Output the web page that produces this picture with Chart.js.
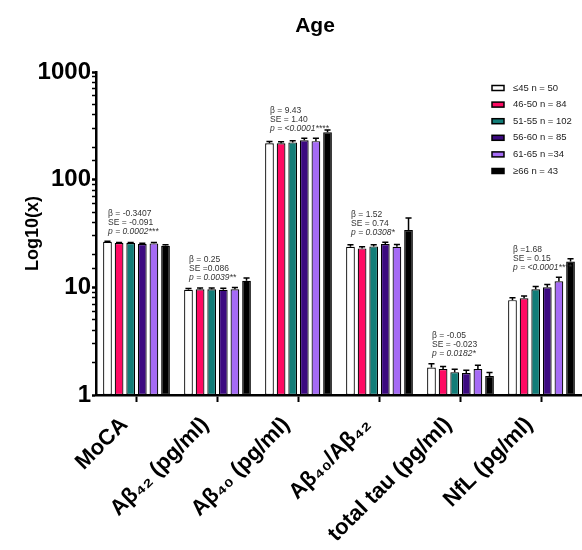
<!DOCTYPE html>
<html>
<head>
<meta charset="utf-8">
<script src="https://cdn.jsdelivr.net/npm/chart.js@4"></script>
<style>
  html, body { margin: 0; padding: 0; background: #fff; }
  #wrap { width: 582px; height: 550px; }
</style>
</head>
<body>
<div id="wrap"><canvas id="ageChart" width="582" height="550"></canvas></div>
<script>
// categories and age groups
const categories = ['MoCA', 'Aβ₄₂ (pg/ml)', 'Aβ₄₀ (pg/ml)', 'Aβ₄₀/Aβ₄₂', 'total tau (pg/ml)', 'NfL (pg/ml)'];
const groupLabels = ['≤45 n = 50', '46-50 n = 84', '51-55 n = 102', '56-60 n = 85', '61-65 n =34', '≥66 n = 43'];

// mean values per age group (one value per category)
const age45 = [26.5, 9.5, 218, 23.8, 1.80, 7.6];
const age46to50 = [25.8, 9.6, 218, 23.0, 1.74, 7.9];
const age51to55 = [25.8, 9.6, 222, 24.0, 1.63, 9.6];
const age56to60 = [25.3, 9.5, 232, 25.2, 1.60, 10.0];
const age61to65 = [25.6, 9.6, 228, 23.8, 1.74, 11.4];
const age66 = [24.3, 11.5, 275, 34.0, 1.50, 17.4];

// standard errors
const err45 = [0.3, 0.25, 8, 1.0, 0.15, 0.4];
const err46to50 = [0.3, 0.25, 7, 0.8, 0.10, 0.4];
const err51to55 = [0.3, 0.25, 8, 0.9, 0.10, 0.6];
const err56to60 = [0.35, 0.3, 10, 1.0, 0.10, 0.6];
const err61to65 = [0.5, 0.35, 14, 1.2, 0.15, 1.0];
const err66 = [0.6, 0.7, 15, 10.0, 0.12, 1.0];

// regression annotations per category
const betaText = ['β = -0.3407', 'β = 0.25', 'β = 9.43', 'β = 1.52', 'β = -0.05', 'β =1.68'];
const seText = ['SE = -0.091', 'SE =0.086', 'SE = 1.40', 'SE = 0.74', 'SE = -0.023', 'SE = 0.15'];
const pText = ['p = 0.0002***', 'p = 0.0039**', 'p = <0.0001****', 'p = 0.0308*', 'p = 0.0182*', 'p = <0.0001****'];

const yTickValues = [1, 10, 100, 1000];

const colors = ['#ffffff', '#ff0a63', '#127d78', '#3c0a80', '#a56bf5', '#000000'];
const FONT = 'Arial, "Liberation Sans", sans-serif';

const seriesValues = [age45, age46to50, age51to55, age56to60, age61to65, age66];
const seriesErrors = [err45, err46to50, err51to55, err56to60, err61to65, err66];

const errorBars = {
    id: 'errorBars',
    afterDatasetsDraw(chart) {
        const ctx = chart.ctx;
        const y = chart.scales.y;
        ctx.save();
        ctx.strokeStyle = '#000';
        ctx.lineWidth = 1.5;
        chart.data.datasets.forEach((ds, i) => {
            chart.getDatasetMeta(i).data.forEach((bar, j) => {
                const top = y.getPixelForValue(ds.data[j] + ds.errors[j]);
                const cap = bar.width * 0.35;
                ctx.beginPath();
                ctx.moveTo(bar.x, bar.y);
                ctx.lineTo(bar.x, top);
                ctx.moveTo(bar.x - cap, top);
                ctx.lineTo(bar.x + cap, top);
                ctx.stroke();
            });
        });
        ctx.restore();
    }
};

const annotations = {
    id: 'annotations',
    afterDraw(chart) {
        const ctx = chart.ctx;
        const y = chart.scales.y;
        ctx.save();
        ctx.fillStyle = '#333';
        ctx.textAlign = 'left';
        ctx.textBaseline = 'middle';
        categories.forEach((c, j) => {
            let top = Infinity;
            for (let i = 0; i < 5; i++) {
                const ds = chart.data.datasets[i];
                top = Math.min(top, y.getPixelForValue(ds.data[j] + ds.errors[j]));
            }
            const first = chart.getDatasetMeta(0).data[j];
            const left = first.x - first.width / 2 + 5;
            ctx.font = '8.5px ' + FONT;
            ctx.fillText(betaText[j], left, top - 28);
            ctx.fillText(seText[j], left, top - 19);
            ctx.font = 'italic 8.5px ' + FONT;
            ctx.fillText(pText[j], left, top - 10);
        });

        // title
        ctx.fillStyle = '#000';
        ctx.textAlign = 'center';
        ctx.font = 'bold 21px ' + FONT;
        ctx.fillText('Age', 315, 26);

        // legend
        const lx = chart.chartArea.right - 90;
        ctx.textAlign = 'left';
        ctx.font = '9.5px ' + FONT;
        chart.data.datasets.forEach((ds, i) => {
            const ly = 88 + i * 16.6;
            ctx.fillStyle = ds.backgroundColor;
            ctx.fillRect(lx, ly - 2.5, 12, 5);
            ctx.strokeStyle = '#000';
            ctx.lineWidth = 1.5;
            ctx.strokeRect(lx, ly - 2.5, 12, 5);
            ctx.fillStyle = '#222';
            ctx.fillText(ds.label, lx + 21, ly);
        });
        ctx.restore();
    }
};

const isPow10 = v => yTickValues.includes(Math.round(v * 1000) / 1000);

new Chart(document.getElementById('ageChart'), {
    type: 'bar',
    data: {
        labels: categories,
        datasets: seriesValues.map((vals, i) => ({
            label: groupLabels[i],
            data: vals,
            errors: seriesErrors[i],
            backgroundColor: colors[i],
            borderColor: '#000',
            borderWidth: 1.2,
            borderSkipped: false,
            categoryPercentage: 0.86,
            barPercentage: 0.75
        }))
    },
    plugins: [errorBars, annotations],
    options: {
        responsive: false,
        animation: false,
        layout: { padding: { top: 72, right: 0, left: 22, bottom: 0 } },
        plugins: {
            legend: { display: false },
            tooltip: { enabled: false }
        },
        scales: {
            y: {
                type: 'logarithmic',
                min: 1,
                max: 1000,
                afterFit: s => { s.width = 74; },
                border: { color: '#000', width: 2.5 },
                grid: {
                    drawOnChartArea: false,
                    drawTicks: true,
                    tickLength: 4,
                    tickColor: '#000',
                    tickWidth: ctx => (ctx.tick && isPow10(ctx.tick.value)) ? 2.5 : 1.5
                },
                ticks: {
                    autoSkip: false,
                    padding: 1,
                    color: '#000',
                    font: { family: FONT, size: 24, weight: 'bold' },
                    callback: v => isPow10(v) ? String(Math.round(v)) : ''
                },
                title: {
                    display: true,
                    text: 'Log10(x)',
                    color: '#000',
                    padding: { top: 0, bottom: 6 },
                    font: { family: FONT, size: 18, weight: 'bold' }
                }
            },
            x: {
                afterFit: s => { s.height = 155; },
                border: { color: '#000', width: 2.5 },
                grid: {
                    offset: false,
                    drawOnChartArea: false,
                    tickLength: 7,
                    tickColor: '#000',
                    tickWidth: 2
                },
                ticks: {
                    autoSkip: false,
                    maxRotation: 45,
                    minRotation: 45,
                    padding: 10,
                    labelOffset: -12,
                    color: '#000',
                    font: { family: FONT, size: 22, weight: 'bold' }
                }
            }
        }
    }
});
</script>
</body>
</html>
